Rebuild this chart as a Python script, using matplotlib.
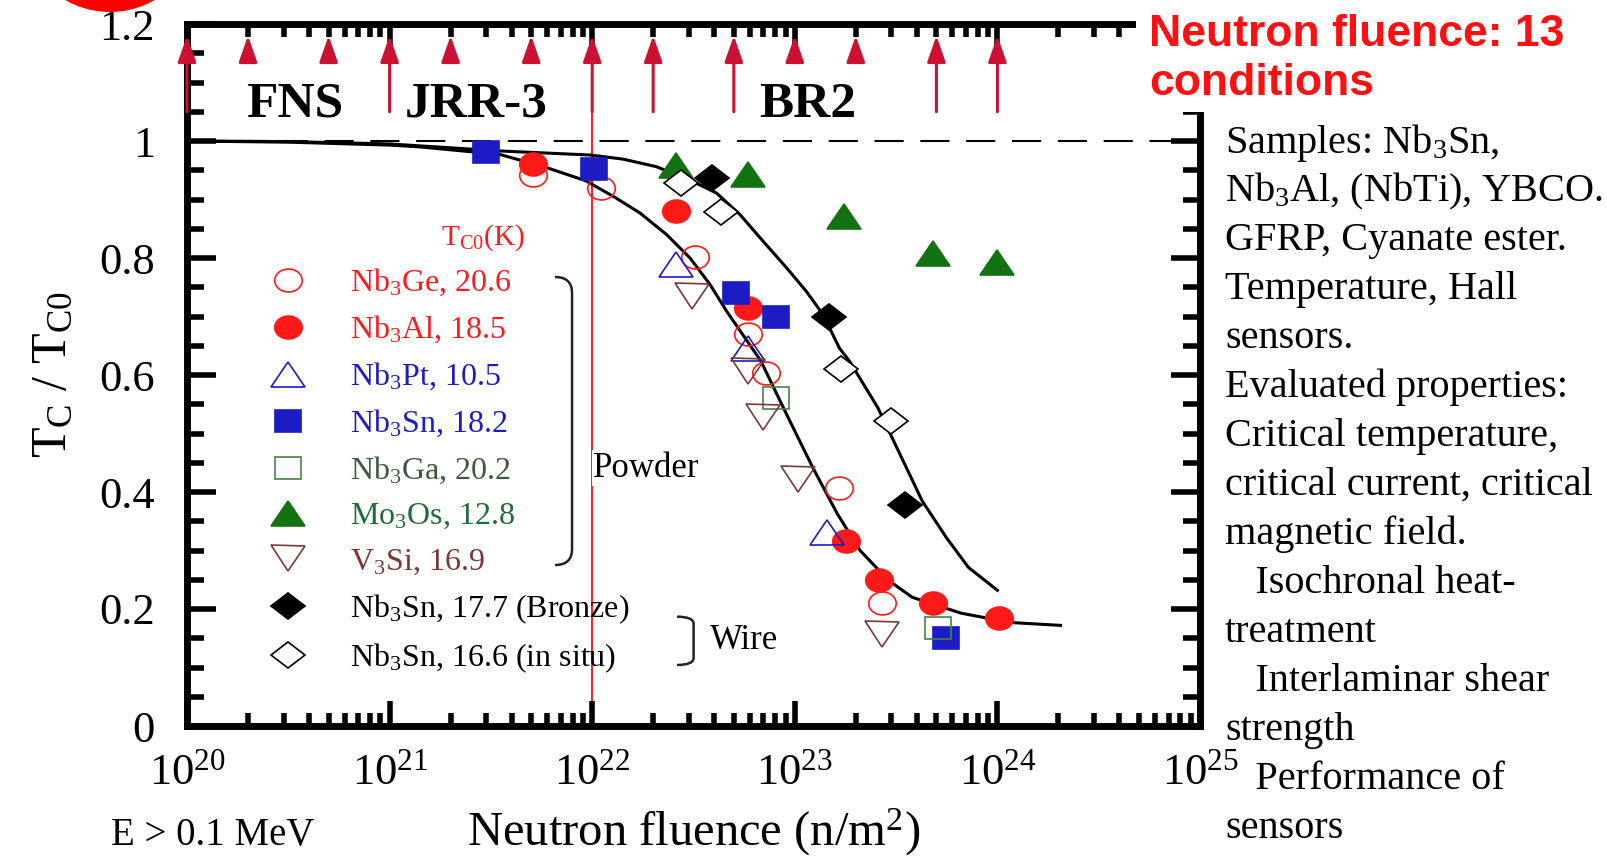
import matplotlib
matplotlib.use('Agg')
import matplotlib.pyplot as plt
from matplotlib.markers import MarkerStyle
from matplotlib.path import Path
from matplotlib.patches import PathPatch, Ellipse, Rectangle
from matplotlib.transforms import Affine2D
from matplotlib.ticker import LogLocator, MultipleLocator, FixedLocator, FixedFormatter

plt.rcParams['font.family'] = ['Liberation Serif', 'DejaVu Serif']
plt.rcParams['mathtext.fontset'] = 'custom'
plt.rcParams['mathtext.rm'] = 'Liberation Serif'
plt.rcParams['mathtext.it'] = 'Liberation Serif:italic'
plt.rcParams['mathtext.bf'] = 'Liberation Serif:bold'
plt.rcParams['mathtext.default'] = 'rm'

# measured Tc/Tc0 against fast neutron fluence (n/m^2, E > 0.1 MeV)
nb3ge_x = [5.1e21, 1.1e22, 3.2e22, 5.9e22, 7.2e22, 1.66e23, 2.7e23]
nb3ge_y = [0.942, 0.919, 0.801, 0.670, 0.603, 0.407, 0.210]
nb3al_x = [5.1e21, 2.6e22, 5.9e22, 1.78e23, 2.6e23, 4.8e23, 1.02e24]
nb3al_y = [0.960, 0.881, 0.714, 0.317, 0.249, 0.211, 0.184]
nb3pt_x = [2.6e22, 5.9e22, 1.45e23]
nb3pt_y = [0.790, 0.646, 0.331]
nb3sn_x = [3.0e21, 1.02e22, 5.1e22, 8.1e22, 5.6e23]
nb3sn_y = [0.981, 0.952, 0.740, 0.700, 0.150]
nb3ga_x = [8.1e22, 5.1e23]
nb3ga_y = [0.561, 0.167]
mo3os_x = [2.6e22, 5.9e22, 1.74e23, 4.8e23, 1.0e24]
mo3os_y = [0.959, 0.943, 0.871, 0.809, 0.794]
v3si_x = [3.1e22, 5.9e22, 7.0e22, 1.04e23, 2.7e23]
v3si_y = [0.735, 0.607, 0.529, 0.423, 0.158]
bronze_x = [3.9e22, 1.48e23, 3.5e23]
bronze_y = [0.936, 0.700, 0.377]
insitu_x = [2.75e22, 4.3e22, 1.7e23, 3.0e23]
insitu_y = [0.928, 0.878, 0.610, 0.522]

# guide curves through the powder and wire results
powder_fit_x = [1e20, 3.2e20, 1e21, 1.4e21, 3.5e21, 5.9e21, 9.3e21, 1.29e22, 1.72e22,
                2.33e22, 3.04e22, 3.81e22, 4.61e22, 6.8e22, 9.1e22, 1.23e23, 1.62e23,
                2.1e23, 2.9e23, 3.8e23, 6.6e23, 1.15e24, 2.05e24]
powder_fit_y = [1.000, 0.998, 0.993, 0.990, 0.977, 0.955, 0.932, 0.904, 0.877,
                0.840, 0.800, 0.755, 0.709, 0.624, 0.533, 0.441, 0.363,
                0.300, 0.249, 0.220, 0.193, 0.177, 0.172]
wire_fit_x = [1e20, 3.2e20, 1e21, 3.5e21, 9.8e21, 1.42e22, 2.08e22, 3.04e22, 4.11e22,
              5.37e22, 7.0e22, 9.12e22, 1.14e23, 1.38e23, 1.66e23, 1.86e23, 2.57e23,
              3.3e23, 4.25e23, 5.6e23, 7.2e23, 1.0e24]
wire_fit_y = [1.000, 0.999, 0.995, 0.983, 0.976, 0.969, 0.956, 0.933, 0.911,
              0.874, 0.828, 0.783, 0.743, 0.703, 0.646, 0.624, 0.544,
              0.465, 0.385, 0.322, 0.271, 0.232]

# the 13 irradiation conditions
irr_fluence = [1e20, 2e20, 5e20, 1e21, 2e21, 5e21, 1e22, 2e22, 5e22, 1e23, 2e23, 5e23, 1e24]
irr_long = [True, False, False, True, False, False, True, True, True, False, False, True, True]
facilities = ['FNS', 'JRR-3', 'BR2']

notes = ['Samples: Nb$_3$Sn,', 'Nb$_3$Al, (NbTi), YBCO.', 'GFRP, Cyanate ester.',
         'Temperature, Hall', 'sensors.', 'Evaluated properties:',
         'Critical temperature,', 'critical current, critical', 'magnetic field.',
         '   Isochronal heat-', 'treatment', '   Interlaminar shear', 'strength',
         '   Performance of', 'sensors']
headline = ['Neutron fluence: 13', 'conditions']

RED = '#ff1a1a'
BLUE = '#1c1cc4'
GREEN = '#137313'
GAGREEN = '#4a8048'
BROWN = '#7a3838'
ARROW = '#cc1133'


def stretched(m, sx):
    return MarkerStyle(m, transform=Affine2D().scale(sx, 1.0))


fig = plt.figure(figsize=(16.08, 8.56), dpi=100)
ax = fig.add_axes([187 / 1608, 130 / 856, 1013 / 1608, 702 / 856])
ax.set_xscale('log')
ax.set_xlim(1e20, 1e25)
ax.set_ylim(0, 1.2)

# fit curves and the Tc0 reference
ax.plot(powder_fit_x, powder_fit_y, color='k', lw=2.2, zorder=2)
ax.plot(wire_fit_x, wire_fit_y, color='k', lw=2.2, zorder=2)
ax.axhline(1.0, color='k', lw=1.5, dashes=(14, 8), zorder=1)
ax.plot([1e22, 1e22], [0, 1.05], color=RED, lw=1.4, zorder=1.5)

series = [
    (nb3ge_x, nb3ge_y, r'Nb$_3$Ge, 20.6', stretched('o', 1.2), 16.5, 'none', RED, RED),
    (nb3al_x, nb3al_y, r'Nb$_3$Al, 18.5', stretched('o', 1.2), 16.5, RED, RED, RED),
    (nb3pt_x, nb3pt_y, r'Nb$_3$Pt, 10.5', stretched('^', 1.35), 18, 'none', BLUE, BLUE),
    (nb3sn_x, nb3sn_y, r'Nb$_3$Sn, 18.2', stretched('s', 1.2), 16, BLUE, BLUE, BLUE),
    (nb3ga_x, nb3ga_y, r'Nb$_3$Ga, 20.2', stretched('s', 1.2), 16, 'none', GAGREEN, '#3e5a3e'),
    (mo3os_x, mo3os_y, r'Mo$_3$Os, 12.8', stretched('^', 1.35), 18, GREEN, GREEN, '#1f6b3a'),
    (v3si_x, v3si_y, r'V$_3$Si, 16.9', stretched('v', 1.35), 18, 'none', BROWN, BROWN),
    (bronze_x, bronze_y, r'Nb$_3$Sn, 17.7 (Bronze)', stretched('D', 1.3), 13, 'k', 'k', 'k'),
    (insitu_x, insitu_y, r'Nb$_3$Sn, 16.6 (in situ)', stretched('D', 1.3), 13, 'white', 'k', 'k'),
]

handles = []
text_colors = []
for xs, ys, label, marker, size, fc, ec, tc in series:
    h, = ax.plot(xs, ys, ls='none', marker=marker, ms=size, mfc=fc, mec=ec,
                 mew=1.2, label=label, zorder=3)
    handles.append(h)
    text_colors.append(tc)

leg = ax.legend(handles=handles, loc='upper left', bbox_to_anchor=(0.0792, 0.654),
                frameon=False, fontsize=23, handlelength=1.3, handletextpad=1.3,
                labelspacing=0.49, borderpad=0, borderaxespad=0, numpoints=1)
for t, c in zip(leg.get_texts(), text_colors):
    t.set_color(c)

ax.text(0.2512, 0.685, r'T$_\mathrm{C0}$(K)', transform=ax.transAxes, color=RED,
        fontsize=21, va='baseline')


def bracket(x0, x1, ytop, ybot, r):
    verts = [(x0, ytop), (x1, ytop), (x1, ytop - r), (x1, ybot + r), (x1, ybot), (x0, ybot)]
    codes = [Path.MOVETO, Path.CURVE3, Path.CURVE3, Path.LINETO, Path.CURVE3, Path.CURVE3]
    ax.add_patch(PathPatch(Path(verts, codes), fill=False, lw=1.8, edgecolor='#222222',
                           transform=ax.transAxes, clip_on=False, zorder=3))


bracket(0.3633, 0.3801, 0.6396, 0.2293, 0.0228)
bracket(0.4837, 0.5001, 0.1557, 0.0869, 0.010)
ax.text(0.4008, 0.3675, 'Powder', transform=ax.transAxes, fontsize=25, va='center',
        bbox=dict(facecolor='white', edgecolor='none', pad=1), zorder=4)
ax.text(0.5163, 0.1225, 'Wire', transform=ax.transAxes, fontsize=25, va='center')

# irradiation conditions as arrows along the top
for f, longer in zip(irr_fluence, irr_long):
    ax.annotate('', xy=(f, 1.18), xytext=(f, 1.05 if longer else 1.142),
                arrowprops=dict(arrowstyle='-|>,head_length=0.8,head_width=0.28',
                                color=ARROW, lw=2.2, mutation_scale=20,
                                shrinkA=0, shrinkB=0), zorder=4)

for name, xa in zip(facilities, [0.0582, 0.2152, 0.5647]):
    ax.text(xa, 0.868, name, transform=ax.transAxes, fontsize=37,
            fontweight='bold', va='baseline')

# axes styling
for s in ax.spines.values():
    s.set_linewidth(5)
ax.xaxis.set_major_locator(LogLocator(base=10, numticks=10))
ax.xaxis.set_minor_locator(LogLocator(base=10, subs=range(2, 10), numticks=60))
ax.yaxis.set_major_locator(FixedLocator([0, 0.2, 0.4, 0.6, 0.8, 1.0, 1.2]))
ax.yaxis.set_major_formatter(FixedFormatter(['0', '0.2', '0.4', '0.6', '0.8', '1', '1.2']))
ax.yaxis.set_minor_locator(MultipleLocator(0.05))
ax.tick_params(which='both', direction='in', top=True, right=True, width=4)
ax.tick_params(axis='x', which='major', length=18, labelsize=32, pad=20)
ax.tick_params(axis='x', which='minor', length=9.5)
ax.tick_params(axis='y', which='major', length=21, labelsize=32, pad=23)
ax.tick_params(axis='y', which='minor', length=12)

ax.set_xlabel('Neutron fluence (n/m$^2$)', fontsize=35)
ax.xaxis.set_label_coords(0.5, -0.115)
ax.set_ylabel(r'T$_\mathrm{C}$ / T$_\mathrm{C0}$', fontsize=36)
ax.yaxis.set_label_coords(-0.108, 0.5)

fig.text(111 / 1608, 1 - 845 / 856, 'E > 0.1 MeV', fontsize=28, va='baseline')

# right-hand notes
for i, line in enumerate(notes):
    fig.text(1225 / 1608, 1 - (152.6 + 48.93 * i) / 856, line, fontsize=29, va='baseline')

fig.add_artist(Rectangle((1136 / 1608, 1 - 112 / 856), 1, 1, transform=fig.transFigure,
                         facecolor='white', edgecolor='none', zorder=2))
for line, base in zip(headline, [46, 95]):
    fig.text(1149 / 1608, 1 - base / 856, line, color='#ff1010', fontsize=32,
             fontweight='bold', family='Liberation Sans', va='baseline', zorder=3)
fig.add_artist(Ellipse((110 / 1608, 1 + 78 / 856), 180 / 1608, 180 / 856,
                       transform=fig.transFigure, facecolor='#ff0000', edgecolor='none'))

fig.savefig('out.png', dpi=100)
